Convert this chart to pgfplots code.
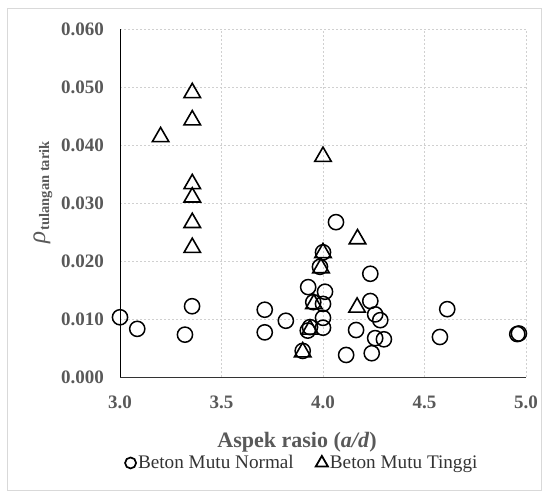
\documentclass[border=0pt]{standalone}
\usepackage{pgfplots}
\pgfplotsset{compat=1.18}
\usepackage{fontspec}
\setmainfont{Liberation Serif}
\definecolor{lblgray}{HTML}{595959}
\definecolor{gridgray}{HTML}{D0D0D0}
\definecolor{framegray}{HTML}{D9D9D9}
\pgfplotsset{
  circleleg/.style={legend image code/.code={\draw[##1, mark size=5.5pt, line width=1.7pt] plot coordinates {(0pt,0pt)};}},
  triangleleg/.style={legend image code/.code={\draw[##1, mark size=7pt, line width=1.8pt] plot coordinates {(0pt,0pt)};}},
}
\begin{document}
\begin{tikzpicture}[x=1pt,y=1pt]
\path (0,0) rectangle (548,493);
\draw[framegray, line width=0.8pt] (7,3) rectangle (541,485);
\begin{axis}[
  at={(120pt,116pt)}, anchor=south west,
  scale only axis, width=406pt, height=348pt,
  xmin=3, xmax=5, ymin=0, ymax=0.06,
  xtick={3,3.5,4,4.5,5},
  ytick={0,0.01,0.02,0.03,0.04,0.05,0.06},
  clip=false,
  axis x line=bottom, axis y line=left,
  axis line style={-},
  x axis line style={draw=black!80, line width=1pt},
  y axis line style={draw=black, line width=1pt},
  major tick length=0pt,
  grid=major,
  grid style={gridgray, dash pattern=on 2pt off 2pt, line width=0.8pt},
  scaled y ticks=false, scaled x ticks=false,
  tick label style={font=\fontsize{19}{22}\selectfont\bfseries, text=lblgray},
  xticklabel style={/pgf/number format/.cd, fixed, fixed zerofill, precision=1, assume math mode=true, /tikz/.cd, anchor=center, yshift=-25pt},
  yticklabel style={/pgf/number format/.cd, fixed, fixed zerofill, precision=3, assume math mode=true, /tikz/.cd, anchor=east, inner sep=0pt, xshift=-16pt},
  xlabel={Aspek rasio (\textit{a/d})},
  xlabel style={at={(axis description cs:0.436,-0.187)}, anchor=center, font=\fontsize{22}{26}\selectfont\bfseries, text=lblgray},
  ylabel={{\fontsize{25}{27}\selectfont\textit{ρ}}\,\raisebox{-4pt}{\fontsize{14.5}{16}\selectfont\bfseries tulangan tarik}},
  ylabel style={at={(axis description cs:-0.19,0.53)}, anchor=center, text=lblgray},
  legend style={at={(axis description cs:0.449,-0.247)}, anchor=center, draw=none, fill=none,
    font=\fontsize{19.2}{21}\selectfont, text=black!80,
    /tikz/every even column/.append style={column sep=20pt}},
  legend columns=2,
  legend cell align=left,
]
\addplot[only marks, mark=o, mark size=7.6pt, line width=1.5pt, black, circleleg]
  coordinates {
  (3.000,0.0103) (3.085,0.0083) (3.320,0.0073) (3.355,0.0122)
  (3.713,0.0116) (3.713,0.0077) (3.817,0.0097) (3.900,0.0045)
  (3.925,0.0080) (3.936,0.0086) (3.927,0.0155) (3.952,0.0129)
  (3.985,0.0190) (4.000,0.0215) (4.000,0.0126) (4.000,0.0102)
  (4.000,0.0085) (4.010,0.0147) (4.064,0.0267) (4.114,0.0038)
  (4.163,0.0081) (4.233,0.0178) (4.233,0.0131) (4.240,0.0041)
  (4.257,0.0108) (4.282,0.0098) (4.257,0.0067) (4.300,0.0065)
  (4.576,0.0069) (4.612,0.0117) (4.957,0.0074) (4.965,0.0075)
  };
\addlegendentry{Beton Mutu Normal}
\addplot[only marks, mark=triangle, mark size=9.5pt, line width=1.6pt, black,
  mark options={line join=miter}, triangleleg]
  coordinates {
  (3.200,0.0414) (3.356,0.0490) (3.356,0.0443) (3.356,0.0333)
  (3.356,0.0310) (3.356,0.0266) (3.356,0.0223) (3.900,0.0043)
  (3.936,0.0082) (3.955,0.0126) (3.990,0.0188) (4.000,0.0214)
  (4.000,0.0380) (4.170,0.0238) (4.168,0.0120)
  };
\addlegendentry{Beton Mutu Tinggi}
\end{axis}
\end{tikzpicture}
\end{document}
